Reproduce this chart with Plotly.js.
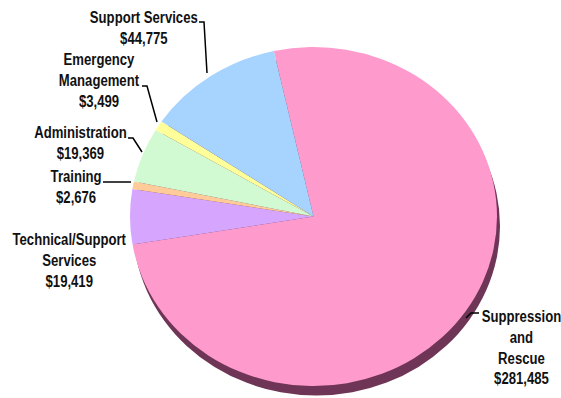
<!DOCTYPE html>
<html>
<head>
<meta charset="utf-8">
<script src="https://cdn.plot.ly/plotly-3.0.1.min.js"></script>
<style>
html,body{margin:0;padding:0;background:#fff;}
#chart{width:561px;height:398px;}
</style>
</head>
<body>
<div id="chart"></div>
<script>
// ---- data ----
const categories = ["Suppression and Rescue", "Technical/Support Services", "Training", "Administration", "Emergency Management", "Support Services"];
const values = [281485, 19419, 2676, 19369, 3499, 44775];
const labelLines = [
  ["Suppression", "and", "Rescue", "$281,485"],
  ["Technical/Support", "Services", "$19,419"],
  ["Training", "$2,676"],
  ["Administration", "$19,369"],
  ["Emergency", "Management", "$3,499"],
  ["Support Services", "$44,775"]
];
const colors = ["#FF9ACC", "#D6A6FE", "#FFCC99", "#D2FAD2", "#FFFF99", "#A6D4FF"];

// ---- layout constants ----
const W = 561, H = 398;
const cx = 313.5, cy = 216.5, r = 183.5, squash = 169.5 / 183.5;
const cy0 = 195;              // pre-squash centre (keeps the circle inside the plot)
const shadowDx = 3, shadowDy = 9.5;
const FONT = "Liberation Sans, Arial, sans-serif";
const NARROW = 0.82;

function dom(x0, y0, rr) {
  return {
    x: [(x0 - rr) / W, (x0 + rr) / W],
    y: [1 - (y0 + rr) / H, 1 - (y0 - rr) / H]
  };
}
const px = x => x / W;
const py = y => 1 - y / H;

// label placement (pixel centres) in category order
const labelPos = [[521, 347], [69, 260], [76, 187], [80, 143], [99, 80], [144, 28]];
// leader lines (pixel points) per category (null = none)
const leaders = [
  [[479, 313], [471, 313], [466, 318]],
  null,
  [[103, 182], [131, 182]],
  [[128, 138], [133, 138], [142, 152]],
  [[142, 86], [147, 86], [157, 122]],
  [[199, 22], [204, 22], [207, 73]]
];

const traces = [
  {
    type: "pie",
    values: [1],
    labels: ["shadow"],
    marker: {colors: ["#6E3557"], line: {width: 0}},
    textinfo: "none",
    hoverinfo: "skip",
    sort: false,
    showlegend: false,
    domain: dom(cx + shadowDx, cy0 + shadowDy / squash, r)
  },
  {
    type: "pie",
    values: values,
    labels: categories,
    marker: {colors: colors, line: {width: 0}},
    textinfo: "none",
    hoverinfo: "skip",
    sort: false,
    direction: "clockwise",
    rotation: -12.5,
    showlegend: false,
    domain: dom(cx, cy0, r)
  }
];

const annotations = labelLines.map((lines, i) => ({
  xref: "paper", yref: "paper",
  x: px(labelPos[i][0]), y: py(labelPos[i][1]),
  xanchor: "center", yanchor: "middle",
  align: "center",
  showarrow: false,
  text: lines.map(s => "<b>" + s + "</b>").join("<br>"),
  font: {family: FONT, size: 16, color: "#111"}
}));

const shapes = [];
leaders.forEach(pts => {
  if (!pts) return;
  const d = pts.map((p, j) => (j ? "L" : "M") + px(p[0]) + "," + py(p[1])).join(" ");
  shapes.push({type: "path", xref: "paper", yref: "paper", path: d, line: {color: "#000", width: 1.5}});
});

const layout = {
  width: W, height: H,
  margin: {l: 0, r: 0, t: 0, b: 0},
  paper_bgcolor: "#fff",
  plot_bgcolor: "#fff",
  showlegend: false,
  annotations: annotations,
  shapes: shapes
};

Plotly.newPlot("chart", traces, layout, {staticPlot: true, displayModeBar: false}).then(() => {
  document.querySelectorAll(".pielayer").forEach(g => {
    g.setAttribute("transform", "translate(0," + cy + ") scale(1," + squash + ") translate(0," + (-cy0) + ")");
  });
  // condense label text horizontally (narrow bold face look)
  document.querySelectorAll(".annotation-text-g text").forEach(t => {
    const b = t.getBBox();
    const mx = b.x + b.width / 2;
    t.setAttribute("transform", "translate(" + mx + ",0) scale(" + NARROW + ",1) translate(" + (-mx) + ",0)");
  });
});
</script>
</body>
</html>
